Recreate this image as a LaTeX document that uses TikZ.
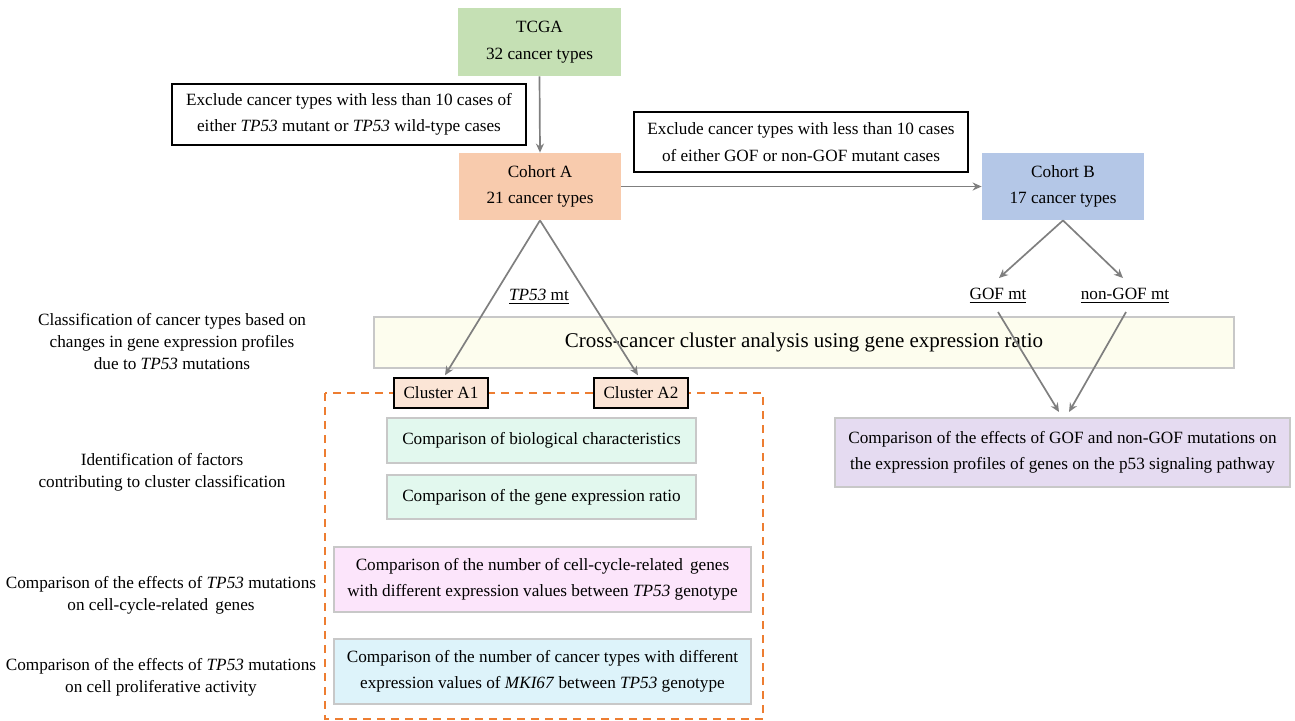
\documentclass[tikz,border=0pt]{standalone}
\usepackage{fontspec}
\setmainfont{Liberation Serif}
\usetikzlibrary{arrows.meta,calc}
\definecolor{tcga}{HTML}{C5E0B4}
\definecolor{cohA}{HTML}{F8CBAD}
\definecolor{cohB}{HTML}{B4C7E7}
\definecolor{clus}{HTML}{FBE5D6}
\definecolor{cross}{HTML}{FDFDEE}
\definecolor{mint}{HTML}{E2F8EE}
\definecolor{pinkb}{HTML}{FCE5FB}
\definecolor{blueb}{HTML}{DDF3FA}
\definecolor{lav}{HTML}{E5DBF1}
\definecolor{gborder}{HTML}{C8C8C8}
\definecolor{arr}{HTML}{7F7F7F}
\definecolor{dorange}{HTML}{ED7D31}
\tikzset{
  base/.style={inner sep=0pt, align=center, font=\fontsize{8.6}{13.2}\selectfont},
  filledbox/.style={base, draw=none},
  greybox/.style={base, draw=gborder, line width=0.75pt},
  blackbox/.style={base, draw=black, line width=0.75pt},
  sidelabel/.style={inner sep=0pt, align=center, font=\fontsize{8.6}{11}\selectfont},
  mtlabel/.style={inner sep=0pt, font=\fontsize{8.6}{10.8}\selectfont},
  conn/.style={draw=arr, line width=0.85pt, -{Stealth[length=4.5pt,width=4pt]}},
}
\begin{document}
\begin{tikzpicture}[x=0.5pt,y=-0.5pt]
\useasboundingbox (0,0) rectangle (1295,720);
% dashed orange frame
\draw[dorange, line width=0.9pt, dash pattern=on 4pt off 3pt] (325,393) rectangle (763,719);

% top nodes
\node[filledbox, fill=tcga, minimum width=81.5pt, minimum height=34pt] (tcga) at (539.5,42) {TCGA\\32 cancer types};
\node[blackbox, minimum width=177pt, minimum height=30.5pt] (ex1) at (349,114.5) {Exclude cancer types with less than 10 cases of\\either \textit{TP53} mutant or \textit{TP53} wild-type cases};
\node[filledbox, fill=cohA, minimum width=81pt, minimum height=33.5pt] (ca) at (540,186.5) {Cohort A\\21 cancer types};
\node[blackbox, minimum width=167pt, minimum height=30pt] (ex2) at (801,142) {Exclude cancer types with less than 10 cases\\of either GOF or non-GOF mutant cases};
\node[filledbox, fill=cohB, minimum width=81pt, minimum height=33.5pt] (cb) at (1063,186.5) {Cohort B\\17 cancer types};

% labels
\node[mtlabel] (tp) at (539,297) {\underline{\textit{TP53} mt}};
\node[mtlabel] (gof) at (998,296) {\underline{GOF mt}};
\node[mtlabel] (ngof) at (1125,296) {\underline{non-GOF mt}};

% cross-cancer
\node[greybox, fill=cross, minimum width=430pt, minimum height=25.5pt, font=\fontsize{10.5}{13}\selectfont] (cross) at (804,342.5) {Cross-cancer cluster analysis using gene expression ratio};

% clusters
\node[blackbox, fill=clus, minimum width=47pt, minimum height=15pt] (c1) at (441,393) {Cluster A1};
\node[blackbox, fill=clus, minimum width=47pt, minimum height=15pt] (c2) at (641,393) {Cluster A2};

% inner boxes
\node[greybox, fill=mint, minimum width=154.5pt, minimum height=22.5pt] (bio) at (541.5,440.5) {Comparison of biological characteristics};
\node[greybox, fill=mint, minimum width=154.5pt, minimum height=22pt] (ratio) at (541.5,497) {Comparison of the gene expression ratio};
\node[greybox, fill=pinkb, minimum width=208.5pt, minimum height=32.5pt] (cc) at (542.5,579.5) {Comparison of the number of cell-cycle-related\, genes\\with different expression values between \textit{TP53} genotype};
\node[greybox, fill=blueb, minimum width=208.5pt, minimum height=32.5pt] (mki) at (542.5,671.5) {Comparison of the number of cancer types with different\\expression values of \textit{MKI67} between \textit{TP53} genotype};
\node[greybox, fill=lav, minimum width=227.5pt, minimum height=34.5pt] (p53) at (1062.5,452.5) {Comparison of the effects of GOF and non-GOF mutations on\\the expression profiles of genes on the p53 signaling pathway};

% side labels
\node[sidelabel] (s1) at (172,342) {Classification of cancer types based on\\changes in gene expression profiles\\due to \textit{TP53} mutations};
\node[sidelabel] (s2) at (162,472) {Identification of factors\\contributing to cluster classification};
\node[sidelabel] (s3) at (161,595) {Comparison of the effects of \textit{TP53} mutations\\on cell-cycle-related\, genes};
\node[sidelabel] (s4) at (161,677) {Comparison of the effects of \textit{TP53} mutations\\on cell proliferative activity};

% coordinates for free ends
\coordinate (gofin) at (999,278);
\coordinate (ngofin) at (1123,278);
\coordinate (gofout) at (998,312);
\coordinate (ngofout) at (1126,312);
\coordinate (p53a) at (1059,412);
\coordinate (p53b) at (1069,412);

% connectors
\draw[conn] (tcga.south) -- (ca.north);
\draw[conn] (ca.east) -- (cb.west);
\draw[conn] (ca.south) -- ($(c1.north)+(4,-2)$);
\draw[conn] (ca.south) -- ($(c2.north)+(-3,-2)$);
\draw[conn] (cb.south) -- (gofin);
\draw[conn] (cb.south) -- (ngofin);
\draw[conn] (gofout) -- (p53a);
\draw[conn] (ngofout) -- (p53b);
\end{tikzpicture}
\end{document}
